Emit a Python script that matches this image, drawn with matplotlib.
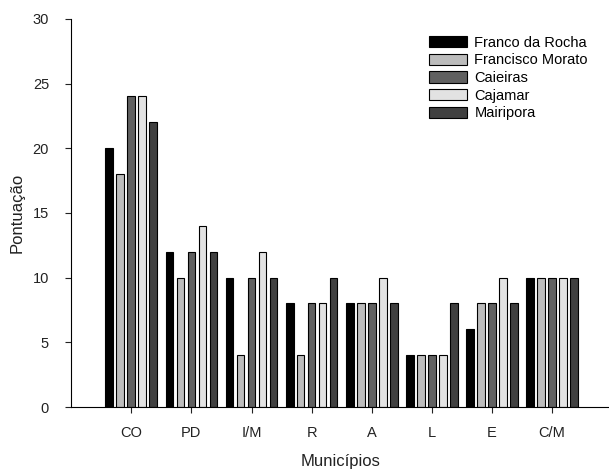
import numpy as np
import matplotlib
matplotlib.use('Agg')
import matplotlib.pyplot as plt

plt.rcParams['font.family'] = ['Liberation Sans', 'DejaVu Sans']

categories = ['CO', 'PD', 'I/M', 'R', 'A', 'L', 'E', 'C/M']
municipios = ['Franco da Rocha', 'Francisco Morato', 'Caieiras', 'Cajamar', 'Mairipora']
franco_da_rocha = [20, 12, 10, 8, 8, 4, 6, 10]
francisco_morato = [18, 10, 4, 4, 8, 4, 8, 10]
caieiras = [24, 12, 10, 8, 8, 4, 8, 10]
cajamar = [24, 14, 12, 8, 10, 4, 10, 10]
mairipora = [22, 12, 10, 10, 8, 8, 8, 10]

series = [franco_da_rocha, francisco_morato, caieiras, cajamar, mairipora]
colors = ['#000000', '#bcbcbc', '#606060', '#e2e2e2', '#404040']

fig = plt.figure(figsize=(6.09, 4.70), dpi=100)
ax = fig.add_axes([0.117, 0.134, 0.883, 0.826])

x = np.arange(len(categories))
step = 0.183
width = 0.13
for i, (vals, name, c) in enumerate(zip(series, municipios, colors)):
    ax.bar(x + (i - 2) * step, vals, width, color=c, edgecolor='black',
           linewidth=0.8, label=name)

ax.set_xlim(-1.0, 7.95)
ax.set_ylim(0, 30)
ax.set_yticks([0, 5, 10, 15, 20, 25, 30])
ax.set_xticks(x)
ax.set_xticklabels(categories)
ax.spines['top'].set_visible(False)
ax.spines['right'].set_visible(False)
ax.tick_params(direction='out', length=4, labelsize=10.5, colors='#222222')
ax.tick_params(axis='y', pad=12)
ax.tick_params(axis='x', pad=10)
ax.set_xlabel('Municípios', fontsize=12, color='#222222', labelpad=10)
ax.set_ylabel('Pontuação', fontsize=12, color='#222222', labelpad=6)

ax.legend(loc='upper right', bbox_to_anchor=(0.985, 0.99), frameon=False,
          fontsize=10.5, handlelength=2.6, handleheight=0.8,
          labelspacing=0.25, handletextpad=0.5)

fig.savefig('out.png', dpi=100)
